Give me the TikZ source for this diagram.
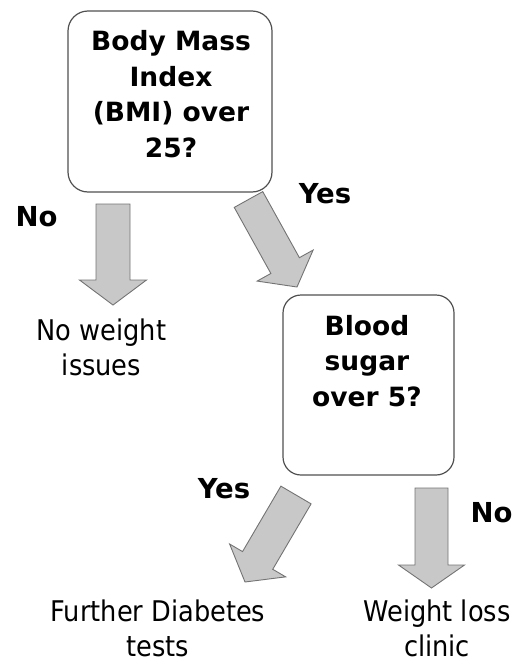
\documentclass[tikz,border=0pt]{standalone}
\usepackage{fontspec}
\setmainfont{DejaVu Sans Condensed}
\newfontfamily\dvs{DejaVu Sans}
\usetikzlibrary{calc}
\definecolor{arrowfill}{RGB}{200,200,200}
\definecolor{arrowdraw}{RGB}{115,115,115}
\definecolor{boxdraw}{RGB}{80,80,80}
\newcommand\blockarr[5]{%
  \path ($(#2)!#5!(#1)$) coordinate (tmpH);
  \draw[blockarrow] ($(#1)!#3!90:(#2)$) -- ($(tmpH)!#3!90:(#2)$) -- ($(tmpH)!#4!90:(#2)$) -- (#2)
    -- ($(tmpH)!#4!-90:(#2)$) -- ($(tmpH)!#3!-90:(#2)$) -- ($(#1)!#3!-90:(#2)$) -- cycle;}
\begin{document}
\begin{tikzpicture}[x=1pt,y=-1pt,
  qbox/.style={draw=boxdraw, line width=1.2pt, rounded corners=20pt, inner sep=0pt},
  qtext/.style={font={\dvs\bfseries\fontsize{26.5}{35.5}\selectfont}, align=center, anchor=base, inner sep=0pt},
  lab/.style={font={\dvs\bfseries\fontsize{27.5}{33}\selectfont}, anchor=base, inner sep=0pt},
  res/.style={font={\fontsize{28.5}{35}\selectfont}, align=center, anchor=base, inner sep=0pt},
  blockarrow/.style={fill=arrowfill, draw=arrowdraw, line width=0.9pt, line join=miter}
]
\useasboundingbox (0,0) rectangle (523,664);
% boxes
\node[qbox, minimum width=204pt, minimum height=181pt] (bmi) at (170,101.5) {};
\node[qbox, minimum width=171pt, minimum height=180pt, rounded corners=18pt] (sugar) at (368.5,385) {};
% texts (anchor base = baseline of the last line)
\node[qtext] (bmitext) at (171,157) {Body Mass\\Index\\(BMI) over\\25?};
\node[qtext] (sugartext) at (367,406) {Blood\\sugar\\over 5?};
% arrow end points
\coordinate (a1s) at (113,204);  \coordinate (a1e) at (113,305);
\coordinate (a2s) at (248.5,199.5); \coordinate (a2e) at (297,287);
\coordinate (a3s) at (296,495);  \coordinate (a3e) at (245,582);
\coordinate (a4s) at (431.5,488); \coordinate (a4e) at (431.5,588);
\blockarr{a1s}{a1e}{17pt}{33.5pt}{25pt}
\blockarr{a2s}{a2e}{16.3pt}{32pt}{24.5pt}
\blockarr{a3s}{a3e}{17.5pt}{32.5pt}{25pt}
\blockarr{a4s}{a4e}{16.5pt}{33pt}{23pt}
% labels
\node[lab] (no1) at (36.5,226) {No};
\node[lab] (yes1) at (325,203) {Yes};
\node[lab] (yes2) at (224,498) {Yes};
\node[lab] (no2) at (491.5,522) {No};
% outcomes
\node[res] (noissue) at (101.5,375) {No weight\\issues};
\node[res] (further) at (158,656) {Further Diabetes\\tests};
\node[res] (clinic) at (437,656) {Weight loss\\clinic};
\end{tikzpicture}
\end{document}
